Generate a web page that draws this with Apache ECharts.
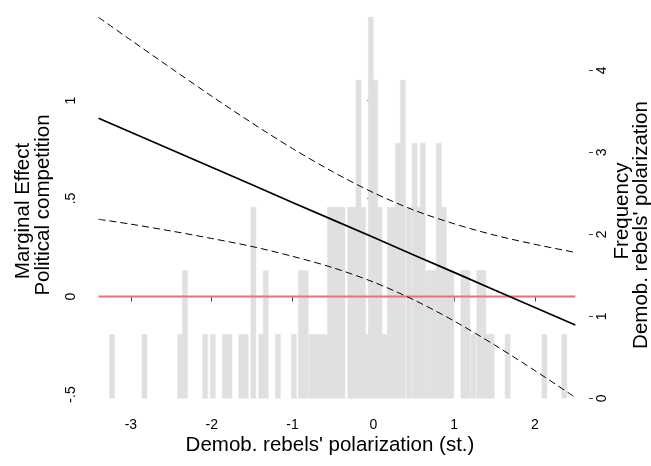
<!DOCTYPE html>
<html>
<head>
<meta charset="utf-8">
<script src="https://cdn.jsdelivr.net/npm/echarts@6/dist/echarts.min.js"></script>
<style>
  html, body { margin: 0; padding: 0; background: #fff; }
  #chart { width: 651px; height: 466px; }
</style>
</head>
<body>
<div id="chart"></div>
<script>
// Marginal effect of political competition over demobilized rebels' polarization,
// with 95% confidence bounds and the distribution of the moderator behind it.

const effectX = [-3.4, -3, -2.5, -2, -1.5, -1, -0.5, 0, 0.5, 1, 1.5, 2, 2.5];
const effect  = [0.909, 0.838, 0.749, 0.659, 0.570, 0.480, 0.391, 0.302, 0.212, 0.123, 0.033, -0.056, -0.145];
const upperCI = [1.424, 1.308, 1.164, 1.022, 0.885, 0.755, 0.636, 0.530, 0.441, 0.371, 0.313, 0.266, 0.225];
const lowerCI = [0.394, 0.369, 0.334, 0.296, 0.255, 0.205, 0.147, 0.074, -0.017, -0.125, -0.247, -0.378, -0.515];

// Histogram of the moderator (bar centres and heights on the frequency axis)
const histX = [
  -3.233, -2.832, -2.390, -2.332, -2.081, -1.986, -1.837, -1.781, -1.634, -1.579,
  -1.485, -1.387, -1.330, -1.181, -0.983, -0.895, -0.836, -0.764, -0.709, -0.656,
  -0.601, -0.537, -0.485, -0.434, -0.383, -0.285, -0.246, -0.183, -0.127, -0.082,
  -0.031, 0.025, 0.077, 0.139, 0.205, 0.249, 0.306, 0.366, 0.440, 0.512,
  0.561, 0.613, 0.681, 0.744, 0.811, 0.873, 0.932, 0.967, 1.114, 1.165,
  1.238, 1.312, 1.363, 1.427, 1.465, 1.663, 2.117, 2.364
];
const histFreq = [
  0.78, 0.78, 0.78, 1.56, 0.78, 0.78, 0.78, 0.78, 0.78, 0.78,
  2.33, 0.78, 1.56, 0.78, 0.78, 1.56, 1.56, 0.78, 0.78, 0.78,
  0.78, 2.33, 2.33, 2.33, 2.33, 2.33, 2.33, 3.88, 2.33, 0.78,
  4.65, 3.88, 2.33, 0.78, 2.33, 2.33, 3.11, 3.88, 2.33, 3.11,
  2.33, 3.11, 1.56, 1.56, 3.11, 2.33, 1.56, 1.56, 1.56, 1.56,
  0.78, 1.56, 1.56, 0.78, 0.78, 0.78, 0.78, 0.78
];
const histBinWidth = 0.064;

const xTicks = [-3, -2, -1, 0, 1, 2];
const leftTicks = [-0.5, 0, 0.5, 1];
const leftTickLabels = ['-.5', '0', '.5', '1'];
const rightTicks = [0, 1, 2, 3, 4];

const xTitle = "Demob. rebels' polarization (st.)";
const leftTitle = ['Marginal Effect', 'Political competition'];
const rightTitle = ['Frequency', "Demob. rebels' polarization"];

const FONT = "'Liberation Sans', Arial, Helvetica, sans-serif";
const TITLE_FONT = "20.5px 'Liberation Sans', Arial, Helvetica, sans-serif";

const pairs = (xs, ys) => xs.map((x, i) => [x, ys[i]]);
const histData = pairs(histX, histFreq);
const zeroLine = [[effectX[0], 0], [effectX[effectX.length - 1], 0]];

// Rotated axis-title text, reading bottom to top
const vTitle = (text, x, y) => ({
  type: 'text', x, y, rotation: Math.PI / 2, silent: true,
  style: { text, font: TITLE_FONT, fill: '#000', align: 'center', verticalAlign: 'middle' }
});

const chart = echarts.init(document.getElementById('chart'), null, { renderer: 'canvas' });

chart.setOption({
  animation: false,
  backgroundColor: '#fff',
  grid: { left: 87, right: 62, top: 10, bottom: 65, containLabel: false, outerBoundsMode: 'none' },
  xAxis: {
    type: 'value',
    min: -3.5433, max: 2.6696,
    axisLine: { show: false },
    splitLine: { show: false },
    axisTick: { show: true, length: 5, customValues: xTicks, lineStyle: { color: '#444', width: 1 } },
    axisLabel: { customValues: xTicks, fontFamily: FONT, fontSize: 14, color: '#000', margin: 17 }
  },
  yAxis: [
    {
      type: 'value',
      position: 'left',
      min: -0.5332, max: 1.4617,
      axisLine: { show: false },
      splitLine: { show: false },
      axisTick: { show: true, length: 6, customValues: leftTicks, lineStyle: { color: '#444', width: 1 } },
      axisLabel: {
        customValues: leftTicks, rotate: 90, margin: 9,
        fontFamily: FONT, fontSize: 14, color: '#000',
        formatter: v => leftTickLabels[leftTicks.findIndex(t => Math.abs(t - v) < 1e-9)]
      }
    },
    {
      type: 'value',
      position: 'right',
      min: -0.0329, max: 4.7354,
      axisLine: { show: false },
      splitLine: { show: false },
      axisTick: { show: true, length: 4, customValues: rightTicks, lineStyle: { color: '#444', width: 1 } },
      axisLabel: { customValues: rightTicks, rotate: 90, margin: 6, fontFamily: FONT, fontSize: 14, color: '#000' }
    }
  ],
  graphic: [
    {
      type: 'text', x: 330, y: 445, silent: true,
      style: { text: xTitle, font: TITLE_FONT, fill: '#000', align: 'center', verticalAlign: 'middle' }
    },
    vTitle(leftTitle[0], 23, 211),
    vTitle(leftTitle[1], 43, 205),
    vTitle(rightTitle[0], 622, 211),
    vTitle(rightTitle[1], 641, 225)
  ],
  series: [
    {
      name: 'Frequency',
      type: 'custom',
      xAxisIndex: 0,
      yAxisIndex: 1,
      z: 1,
      data: histData,
      renderItem: (params, api) => {
        const x = api.value(0), f = api.value(1);
        const p0 = api.coord([x - histBinWidth / 2, f]);
        const p1 = api.coord([x + histBinWidth / 2, 0]);
        return {
          type: 'rect',
          shape: { x: p0[0], y: p0[1], width: p1[0] - p0[0], height: p1[1] - p0[1] },
          style: { fill: '#e0e0e0', stroke: '#e0e0e0', lineWidth: 0.4 }
        };
      }
    },
    {
      name: 'Zero',
      type: 'line',
      yAxisIndex: 0,
      z: 3,
      data: zeroLine,
      symbol: 'none',
      lineStyle: { color: '#f07070', width: 2 }
    },
    {
      name: 'Upper bound',
      type: 'line',
      yAxisIndex: 0,
      z: 4,
      data: pairs(effectX, upperCI),
      symbol: 'none',
      smooth: 0.3,
      lineStyle: { color: '#000', width: 1, type: [7, 4] }
    },
    {
      name: 'Lower bound',
      type: 'line',
      yAxisIndex: 0,
      z: 4,
      data: pairs(effectX, lowerCI),
      symbol: 'none',
      smooth: 0.3,
      lineStyle: { color: '#000', width: 1, type: [7, 4] }
    },
    {
      name: 'Marginal effect',
      type: 'line',
      yAxisIndex: 0,
      z: 5,
      data: pairs(effectX, effect),
      symbol: 'none',
      lineStyle: { color: '#000', width: 1.7 }
    }
  ]
});
</script>
</body>
</html>
